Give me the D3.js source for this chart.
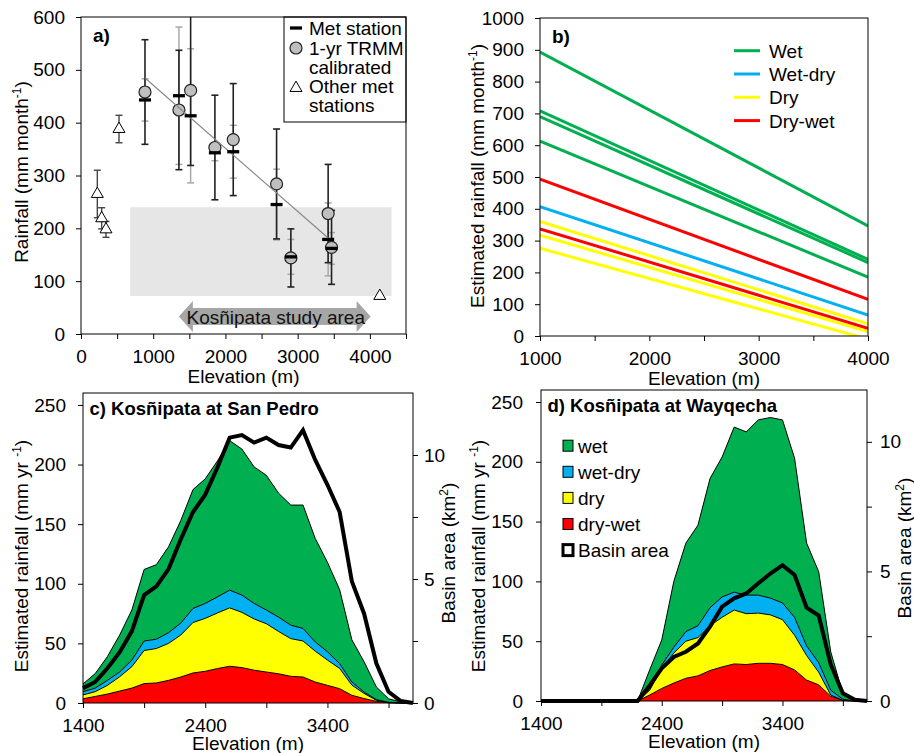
<!DOCTYPE html>
<html>
<head>
<meta charset="utf-8">
<script src="https://cdn.jsdelivr.net/npm/d3@7"></script>
<style>
  body { margin: 0; background: #fff; }
  svg text { font-family: "Liberation Sans", Arial, sans-serif; }
</style>
</head>
<body>
<script>
// ---------- Panel a: station rainfall vs elevation ----------
const metElev   = [886, 1356, 1518, 1854, 2108, 2708, 2906, 3422, 3469];
const metRain   = [443, 451, 413, 343, 345, 245, 146, 179, 162];
const metErr    = [40, 130, 127, 15, 50, 67, 33, 69, 30];
const trmmRain  = [458, 424, 461, 353, 368, 284, 144, 228, 164];
const trmmErr   = [99, 113, 142, 99, 106, 104, 55, 93, 70];
const otherElev = [226, 286, 346, 526, 4137];
const otherRain = [265, 219, 198, 388, 72];
const otherErr  = [45, 20, 15, 26, 0];
const trendElev = [890, 3470];
const trendRain = [484, 176];
const shadeElev = [680, 4300];
const shadeRain = [72, 240];
const studyElev = [1355, 4010];
const studyRain = 33;

// ---------- Panel b: seasonal lapse-rate lines ----------
const lineElev    = [1000, 4000];
const wetLines    = [[893, 346], [708, 241], [690, 231], [613, 185]];
const wetDryLines = [[407, 66]];
const dryLines    = [[360, 38], [317, 14], [276, -10]];
const dryWetLines = [[493, 115], [337, 24]];
const seasonLabels = ['Wet', 'Wet-dry', 'Dry', 'Dry-wet'];

// ---------- Panels c, d: hypsometric rainfall ----------
const elevBins = [1400, 1500, 1600, 1700, 1800, 1900, 2000, 2100, 2200, 2300, 2400, 2500, 2600, 2700,
                  2800, 2900, 3000, 3100, 3200, 3300, 3400, 3500, 3600, 3700, 3800, 3900, 4000, 4100];

const cDryWet = [3.5, 5.5, 7.5, 10, 12.5, 16.3, 16.8, 19, 21.8, 25.2, 26.6, 28.9, 30.8, 29.7,
                 27.5, 26, 24.5, 22.4, 21.8, 17.6, 14.8, 12, 6.5, 3.7, 1.4, 0.3, 0, 0];
const cDry    = [3.3, 4, 7.3, 12, 18, 27.7, 28.9, 31, 35.2, 42.3, 44.4, 46.6, 49, 46.3,
                 43, 40.5, 35.5, 31.6, 30.2, 25.9, 21.2, 17, 8.5, 4.3, 0.9, 0, 0, 0];
const cWetDry = [2.7, 3, 4.2, 4, 5.5, 8, 7.8, 9, 10, 11.8, 12.5, 13.5, 14.9, 14.5,
                 13, 11.5, 12, 11.3, 10.5, 7.8, 7, 4, 2.6, 1.2, 0.5, 0.3, 0, 0];
const cWet    = [6.5, 12.2, 20, 31, 42, 60, 62.5, 72, 86, 99.7, 104.5, 114, 125.3, 122.5,
                 114.5, 113, 104, 100.7, 103.5, 86.7, 75, 62, 35.4, 25.3, 10.7, 2.9, 1, 0];
const cBasin  = [0.6, 0.85, 1.4, 2.05, 2.9, 4.35, 4.7, 5.4, 6.6, 7.7, 8.4, 9.5, 10.7, 10.8,
                 10.5, 10.7, 10.4, 10.3, 11.0, 9.8, 8.8, 7.7, 4.9, 3.6, 1.6, 0.45, 0.08, 0];

const dDryWet = [0, 0, 0, 0, 0, 0, 0, 0, 0, 5, 10.5, 15, 19, 21,
                 25.5, 28.5, 31, 30.5, 31.5, 31.5, 30.5, 26, 17.5, 13.5, 4, 0.5, 0, 0];
const dDry    = [0, 0, 0, 0, 0, 0, 0, 0, 0, 4, 16.5, 25, 31, 32,
                 37.5, 41.5, 45, 42.5, 42, 40.5, 37.5, 29, 20.5, 10.5, 1, 0, 0, 0];
const dWetDry = [0, 0, 0, 0, 0, 0, 0, 0, 0, 1, 3, 5, 8, 10,
                 15, 17, 15, 15.5, 15, 14, 14, 15, 8, 8, 4, 1, 0, 0];
const dWet    = [0, 0, 0, 0, 0, 0, 0, 0, 0, 16, 21, 55, 74, 84,
                 108, 117, 138, 136.5, 146.5, 151, 153, 133, 86, 76, 32, 4.9, 0.8, 0];
const dBasin  = [0, 0, 0, 0, 0, 0, 0, 0, 0, 0.6, 1.26, 1.7, 1.9, 2.22,
                 2.87, 3.64, 3.96, 4.15, 4.54, 4.92, 5.24, 4.86, 3.6, 3.3, 1.4, 0.3, 0.05, 0];

const layerKeys   = ['dryWet', 'dry', 'wetDry', 'wet'];
const layerColors = { wet: '#00b050', wetDry: '#00b0f0', dry: '#ffff00', dryWet: '#ff0000' };
const areaLegend  = ['wet', 'wet-dry', 'dry', 'dry-wet', 'Basin area'];

// ---------- setup ----------
const FONT = '"Liberation Sans", Arial, sans-serif';
const svg = d3.select('body').append('svg')
  .attr('width', 914).attr('height', 753);

function styleAxis(g) {
  g.attr('font-size', 19).attr('font-family', FONT);
  g.select('.domain').remove();
  g.selectAll('.tick line').attr('stroke', '#000');
  g.selectAll('.tick text').attr('fill', '#000');
}

function frame(b) {
  svg.append('rect')
    .attr('x', b.x0).attr('y', b.y0)
    .attr('width', b.x1 - b.x0).attr('height', b.y1 - b.y0)
    .attr('fill', 'none').attr('stroke', '#000').attr('stroke-width', 1);
}

function yTitle(x, y, main, sup, tail) {
  const t = svg.append('text')
    .attr('transform', `translate(${x},${y}) rotate(-90)`)
    .attr('text-anchor', 'middle').attr('font-size', 19).attr('fill', '#000');
  t.append('tspan').text(main);
  t.append('tspan').attr('font-size', 12).attr('dy', -7).text(sup);
  t.append('tspan').attr('dy', 7).text(tail);
}

function xTitle(x, y) {
  svg.append('text').attr('x', x).attr('y', y)
    .attr('text-anchor', 'middle').attr('font-size', 19).attr('fill', '#000')
    .text('Elevation (m)');
}

// ================= Panel a =================
const A = { x0: 81, x1: 406, y0: 17, y1: 334 };
const ax = d3.scaleLinear().domain([0, 4500]).range([A.x0, A.x1]);
const ay = d3.scaleLinear().domain([0, 600]).range([A.y1, A.y0]);

svg.append('defs').append('clipPath').attr('id', 'clipA')
  .append('rect').attr('x', A.x0).attr('y', A.y0)
  .attr('width', A.x1 - A.x0).attr('height', A.y1 - A.y0);
svg.select('defs').append('clipPath').attr('id', 'clipB')
  .append('rect').attr('x', 540).attr('y', 18).attr('width', 328).attr('height', 318);

const ga = svg.append('g').attr('clip-path', 'url(#clipA)');

// study-area shading
ga.append('rect')
  .attr('x', ax(shadeElev[0])).attr('y', ay(shadeRain[1]))
  .attr('width', ax(shadeElev[1]) - ax(shadeElev[0]))
  .attr('height', ay(shadeRain[0]) - ay(shadeRain[1]))
  .attr('fill', '#e6e6e6');

// double arrow
{
  const l = ax(studyElev[0]), r = ax(studyElev[1]), cy = ay(studyRain);
  const hl = 14, bh = 8.5, hh = 15.5;
  const pts = [[l, cy], [l + hl, cy - hh], [l + hl, cy - bh], [r - hl, cy - bh], [r - hl, cy - hh],
               [r, cy], [r - hl, cy + hh], [r - hl, cy + bh], [l + hl, cy + bh], [l + hl, cy + hh]];
  ga.append('path').attr('d', d3.line()(pts) + 'Z').attr('fill', '#a6a6a6');
  ga.append('text').attr('x', (l + r) / 2 + 1).attr('y', cy + 7)
    .attr('text-anchor', 'middle').attr('font-size', 19).attr('fill', '#111')
    .text('Kosñipata study area');
}

function errBar(g, x, y, e, color, w) {
  if (!e) return;
  const px = ax(x);
  g.append('line').attr('x1', px).attr('x2', px).attr('y1', ay(y - e)).attr('y2', ay(y + e))
    .attr('stroke', color).attr('stroke-width', w);
  [y - e, y + e].forEach(v => g.append('line')
    .attr('x1', px - 3.5).attr('x2', px + 3.5).attr('y1', ay(v)).attr('y2', ay(v))
    .attr('stroke', color).attr('stroke-width', w));
}

// other stations
otherElev.forEach((e, i) => errBar(ga, e, otherRain[i], otherErr[i], '#444', 1.4));
const tri = d3.symbol().type(d3.symbolTriangle).size(62);
otherElev.forEach((e, i) => {
  ga.append('path').attr('d', tri())
    .attr('transform', `translate(${ax(e)},${ay(otherRain[i])})`)
    .attr('fill', '#fff').attr('stroke', '#000').attr('stroke-width', 1);
});

// met station error bars (grey), TRMM error bars (black)
metElev.forEach((e, i) => errBar(ga, e, metRain[i], metErr[i], '#a8a8a8', 1.5));
metElev.forEach((e, i) => errBar(ga, e, trmmRain[i], trmmErr[i], '#222', 1.6));

// TRMM circles
ga.selectAll('circle.trmm').data(metElev).enter().append('circle')
  .attr('cx', d => ax(d)).attr('cy', (d, i) => ay(trmmRain[i])).attr('r', 6)
  .attr('fill', '#bfbfbf').attr('stroke', '#222').attr('stroke-width', 1.2);

// trend line
ga.append('line')
  .attr('x1', ax(trendElev[0])).attr('y1', ay(trendRain[0]))
  .attr('x2', ax(trendElev[1])).attr('y2', ay(trendRain[1]))
  .attr('stroke', '#888').attr('stroke-width', 1.2);

// met station dashes
metElev.forEach((e, i) => {
  ga.append('line').attr('x1', ax(e) - 6).attr('x2', ax(e) + 6)
    .attr('y1', ay(metRain[i])).attr('y2', ay(metRain[i]))
    .attr('stroke', '#000').attr('stroke-width', 3.3);
});

// legend a
{
  svg.append('rect').attr('x', 284).attr('y', A.y0).attr('width', A.x1 - 284).attr('height', 105)
    .attr('fill', '#fff').attr('stroke', '#000').attr('stroke-width', 1);
  svg.append('line').attr('x1', 290).attr('x2', 302).attr('y1', 28).attr('y2', 28)
    .attr('stroke', '#000').attr('stroke-width', 3.3);
  svg.append('circle').attr('cx', 296).attr('cy', 48).attr('r', 6)
    .attr('fill', '#bfbfbf').attr('stroke', '#222').attr('stroke-width', 1.2);
  svg.append('path').attr('d', tri()).attr('transform', 'translate(296,88)')
    .attr('fill', '#fff').attr('stroke', '#000').attr('stroke-width', 1);
  const lines = [['Met station', 35], ['1-yr TRMM', 55], ['calibrated', 74], ['Other met', 93], ['stations', 112]];
  lines.forEach(([t, y]) => svg.append('text').attr('x', 309).attr('y', y)
    .attr('font-size', 19).attr('fill', '#000').text(t));
}

frame(A);
svg.append('g').attr('transform', `translate(0,${A.y1})`)
  .call(d3.axisBottom(ax).tickValues([0, 500, 1000, 1500, 2000, 2500, 3000, 3500, 4000, 4500])
    .tickFormat(d => d % 1000 === 0 ? d : '').tickSize(5).tickPadding(11))
  .call(styleAxis);
svg.append('g').attr('transform', `translate(${A.x0},0)`)
  .call(d3.axisLeft(ay).tickValues([0, 100, 200, 300, 400, 500, 600]).tickSize(5).tickPadding(11))
  .call(styleAxis);
svg.append('text').attr('x', 93).attr('y', 42).attr('font-size', 19).attr('font-weight', 'bold').text('a)');
xTitle((A.x0 + A.x1) / 2, 383);
yTitle(28, 172, 'Rainfall (mm month', '-1', ')');

// ================= Panel b =================
const B = { x0: 540, x1: 868, y0: 18, y1: 336 };
const bx = d3.scaleLinear().domain([1000, 4000]).range([B.x0, B.x1]);
const by = d3.scaleLinear().domain([0, 1000]).range([B.y1, B.y0]);
const gb = svg.append('g').attr('clip-path', 'url(#clipB)');
const seasonSets = [
  [wetLines, layerColors.wet], [wetDryLines, layerColors.wetDry],
  [dryLines, layerColors.dry], [dryWetLines, layerColors.dryWet]
];
seasonSets.forEach(([set, col]) => set.forEach(v => {
  gb.append('line')
    .attr('x1', bx(lineElev[0])).attr('y1', by(v[0]))
    .attr('x2', bx(lineElev[1])).attr('y2', by(v[1]))
    .attr('stroke', col).attr('stroke-width', 3);
}));
frame(B);
svg.append('g').attr('transform', `translate(0,${B.y1})`)
  .call(d3.axisBottom(bx).tickValues([1000, 1500, 2000, 2500, 3000, 3500, 4000])
    .tickFormat(d => d % 1000 === 0 ? d : '').tickSize(5).tickPadding(11))
  .call(styleAxis);
svg.append('g').attr('transform', `translate(${B.x0},0)`)
  .call(d3.axisLeft(by).tickValues([0, 100, 200, 300, 400, 500, 600, 700, 800, 900, 1000])
    .tickFormat(d3.format('d')).tickSize(5).tickPadding(11))
  .call(styleAxis);
svg.append('text').attr('x', 552).attr('y', 43).attr('font-size', 19).attr('font-weight', 'bold').text('b)');
seasonLabels.forEach((s, i) => {
  const y = 50.7 + i * 23.3;
  svg.append('line').attr('x1', 734).attr('x2', 760).attr('y1', y).attr('y2', y)
    .attr('stroke', seasonSets[i][1]).attr('stroke-width', 3);
  svg.append('text').attr('x', 769).attr('y', y + 7).attr('font-size', 19).attr('fill', '#000').text(s);
});
xTitle((B.x0 + B.x1) / 2, 385);
yTitle(484, 176, 'Estimated rainfall (mm month', '-1', ')');

// ================= Panels c, d =================
function areaPanel(P, cols, basin, yMax2, title, rightTicks, padL, padR) {
  const x = d3.scaleLinear().domain([1400, 4100]).range([P.x0, P.x1]);
  const y = d3.scaleLinear().domain([0, 260]).range([P.y1, P.y0]);
  const y2 = d3.scaleLinear().domain([0, yMax2]).range([P.y1, P.y0]);
  const rows = elevBins.map((e, i) => ({
    elev: e, dryWet: cols[0][i], dry: cols[1][i], wetDry: cols[2][i], wet: cols[3][i]
  }));
  const stacked = d3.stack().keys(layerKeys)(rows);
  const area = d3.area().x(d => x(d.data.elev)).y0(d => y(d[0])).y1(d => y(d[1]));
  const top = d3.line().x(d => x(d.data.elev)).y(d => y(d[1]));
  const g = svg.append('g');
  stacked.forEach(s => g.append('path').attr('d', area(s)).attr('fill', layerColors[s.key]));
  stacked.forEach(s => g.append('path').attr('d', top(s)).attr('fill', 'none')
    .attr('stroke', '#000').attr('stroke-width', 1));
  g.append('path')
    .attr('d', d3.line().x((d, i) => x(elevBins[i])).y(d => y2(d))(basin))
    .attr('fill', 'none').attr('stroke', '#000').attr('stroke-width', 4)
    .attr('stroke-linejoin', 'miter');

  frame(P);
  svg.append('g').attr('transform', `translate(0,${P.y1})`)
    .call(d3.axisBottom(x).tickValues([1400, 1900, 2400, 2900, 3400, 3900])
      .tickFormat(d => (d - 1400) % 1000 === 0 ? d : '').tickSize(5).tickPadding(11))
    .call(styleAxis);
  svg.append('g').attr('transform', `translate(${P.x0},0)`)
    .call(d3.axisLeft(y).tickValues([0, 50, 100, 150, 200, 250]).tickSize(5).tickPadding(padL))
    .call(styleAxis);
  svg.append('g').attr('transform', `translate(${P.x1},0)`)
    .call(d3.axisRight(y2).tickValues(rightTicks)
      .tickFormat(d => d % 5 === 0 ? d : '').tickSize(5).tickPadding(padR))
    .call(styleAxis);
  svg.append('text').attr('x', P.x0 + 6.5).attr('y', P.y0 + 22).attr('font-size', 18.5)
    .attr('font-weight', 'bold').attr('fill', '#000').text(title);
  xTitle((P.x0 + P.x1) / 2, P.y1 + 47);
}

const C = { x0: 83, x1: 413, y0: 393, y1: 703 };
const D = { x0: 541, x1: 867, y0: 390, y1: 701 };
areaPanel(C, [cDryWet, cDry, cWetDry, cWet], cBasin, 12.5, 'c) Kosñipata at San Pedro', [0, 2.5, 5, 7.5, 10], 12, 6);
areaPanel(D, [dDryWet, dDry, dWetDry, dWet], dBasin, 12, 'd) Kosñipata at Wayqecha', [0, 2.5, 5, 7.5, 10], 13, 8);

yTitle(28, 556, 'Estimated rainfall (mm yr ', '-1', ')');
yTitle(455, 553, 'Basin area (km', '2', ')');
yTitle(485, 556, 'Estimated rainfall (mm yr ', '-1', ')');
yTitle(911, 548, 'Basin area (km', '2', ')');

// legend d
{
  const fills = [layerColors.wet, layerColors.wetDry, layerColors.dry, layerColors.dryWet, '#fff'];
  areaLegend.forEach((t, i) => {
    const cy = 445.7 + i * 26.1;
    svg.append('rect').attr('x', 563).attr('y', cy - 5.5).attr('width', 10).attr('height', 11)
      .attr('fill', fills[i]).attr('stroke', '#000').attr('stroke-width', i === 4 ? 3 : 1);
    svg.append('text').attr('x', 578).attr('y', cy + 7).attr('font-size', 19).attr('fill', '#000').text(t);
  });
}
</script>
</body>
</html>
